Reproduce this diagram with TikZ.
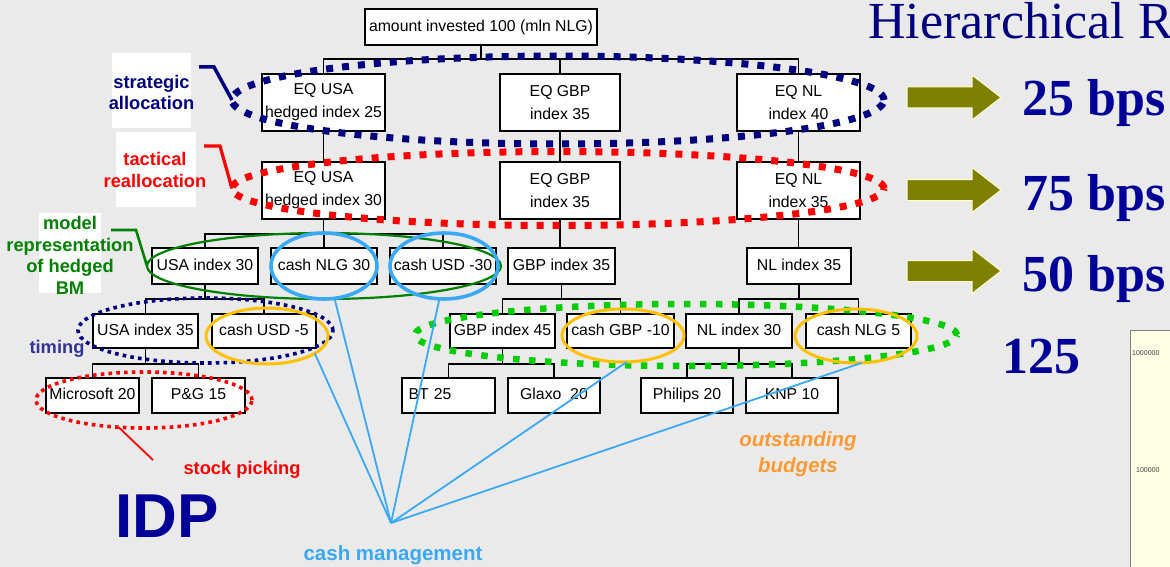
\documentclass[tikz,border=0pt]{standalone}
\usepackage{fontspec}
\setmainfont{Liberation Sans}
\newfontfamily\serifface{Liberation Serif}
\usetikzlibrary{shapes.geometric,calc}

\definecolor{bg}{HTML}{EAEAEA}
\definecolor{navy}{HTML}{000080}
\definecolor{deepblue}{HTML}{000099}
\definecolor{timingblue}{HTML}{333399}
\definecolor{redline}{HTML}{FF0000}
\definecolor{modelgreen}{HTML}{008000}
\definecolor{brightgreen}{HTML}{00CC00}
\definecolor{cashblue}{HTML}{3AA8F5}
\definecolor{gold}{HTML}{FFC000}
\definecolor{budgetorange}{HTML}{FF9933}
\definecolor{olivearrow}{HTML}{808000}
\definecolor{arrowedge}{HTML}{FFFFCC}
\definecolor{chartbg}{HTML}{FFFFE5}

\tikzset{
  box/.style={draw=black, line width=1.8pt, fill=white, inner sep=0pt,
    align=center, font=\fontsize{15.8}{23}\selectfont},
  onebox/.style={box, text height=11.4pt, text depth=3.3pt},
  tree/.style={line width=1.8pt},
  oval/.style={ellipse, inner sep=0pt, outer sep=0pt},
  bigdots/.style={line width=7pt, dash pattern=on 7pt off 9pt},
  smalldots/.style={line width=3.6pt, dash pattern=on 3.6pt off 4.2pt},
  lbl/.style={inner sep=0pt, align=center,
    font=\fontsize{18.3}{21.5}\selectfont\bfseries},
  bps/.style={anchor=base west, inner sep=0pt, text=deepblue,
    font=\serifface\bfseries\fontsize{52}{52}\selectfont},
  cashline/.style={draw=cashblue, line width=1.8pt},
  bigarrow/.pic={
    \filldraw[fill=olivearrow, draw=arrowedge, line width=1pt]
      (0,-10.5) -- (65,-10.5) -- (65,-22.5) -- (94,0) -- (65,22.5)
      -- (65,10.5) -- (0,10.5) -- cycle;}
}

\begin{document}
\begin{tikzpicture}[x=1pt,y=-1pt]
\useasboundingbox (0,0) rectangle (1170,567);
\fill[bg] (0,0) rectangle (1170,567);

% chart panel in the lower right corner
\fill[chartbg] (1130,330) rectangle (1170,567);
\draw[gray, line width=0.8pt] (1130,567) -- (1130,330) -- (1170,330);
\node[anchor=west, inner sep=0pt, text=black!75, font=\fontsize{7}{7}\selectfont] (tickA) at (1132,353) {1000000};
\node[anchor=west, inner sep=0pt, text=black!75, font=\fontsize{7}{7}\selectfont] (tickB) at (1136,470) {100000};

% heading
\node[anchor=base west, inner sep=0pt, text=navy, font=\serifface\fontsize{52}{52}\selectfont] (title) at (868,39) {Hierarchical R};

% ---- tree of portfolio boxes ----
\node[onebox, minimum width=232pt, minimum height=36pt] (top) at (481,27) {amount invested 100 (mln NLG)};

\node[box, minimum width=123pt, minimum height=57pt] (sUSA) at (323.5,102.5) {EQ USA\\hedged index 25};
\node[box, minimum width=120pt, minimum height=57pt] (sGBP) at (560,102.5) {EQ GBP\\index 35};
\node[box, minimum width=123pt, minimum height=57pt] (sNL) at (798.5,102.5) {EQ NL\\index 40};

\node[box, minimum width=123pt, minimum height=57pt] (tUSA) at (323.5,190.5) {EQ USA\\hedged index 30};
\node[box, minimum width=120pt, minimum height=57pt] (tGBP) at (560,190.5) {EQ GBP\\index 35};
\node[box, minimum width=123pt, minimum height=57pt] (tNL) at (798.5,190.5) {EQ NL\\index 35};

\node[onebox, minimum width=106pt, minimum height=36pt] (mUSA) at (205,266) {USA index 30};
\node[onebox, minimum width=106pt, minimum height=36pt] (mNLG) at (324,266) {cash NLG 30};
\node[onebox, minimum width=106pt, minimum height=36pt] (mUSD) at (443,266) {cash USD -30};
\node[onebox, minimum width=107pt, minimum height=36pt] (mGBP) at (561.5,266) {GBP index 35};
\node[onebox, minimum width=104pt, minimum height=36pt] (mNL) at (799,266) {NL index 35};

\node[onebox, minimum width=105pt, minimum height=34pt] (aUSA) at (145.5,331) {USA index 35};
\node[onebox, minimum width=104pt, minimum height=34pt] (aUSD) at (264,331) {cash USD -5};
\node[onebox, minimum width=105pt, minimum height=34pt] (aGBP) at (502.5,331) {GBP index 45};
\node[onebox, minimum width=107pt, minimum height=34pt] (aCGBP) at (620.5,331) {cash GBP -10};
\node[onebox, minimum width=106pt, minimum height=34pt] (aNL) at (739,331) {NL index 30};
\node[onebox, minimum width=105pt, minimum height=34pt] (aNLG) at (858.5,331) {cash NLG 5};

\node[onebox, minimum width=93pt, minimum height=35pt] (msft) at (92.5,395.5) {Microsoft 20};
\node[onebox, minimum width=93pt, minimum height=35pt] (pg) at (198.5,395.5) {P\&G 15};
\node[onebox, minimum width=93pt, minimum height=35pt, text width=80pt, align=left] (bt) at (448.5,395.5) {BT 25};
\node[onebox, minimum width=92pt, minimum height=35pt] (glaxo) at (554,395.5) {Glaxo\ \ 20};
\node[onebox, minimum width=92pt, minimum height=35pt] (philips) at (687,395.5) {Philips 20};
\node[onebox, minimum width=92pt, minimum height=35pt] (knp) at (792,395.5) {KNP 10};

% tree connectors
\coordinate (j0) at ($(top.south)+(0,13)$);
\draw[tree] (top.south) -- (j0) -| (sUSA.north) (j0) -| (sGBP.north) (j0) -| (sNL.north);
\draw[tree] (sUSA.south) -- (tUSA.north);
\draw[tree] (sGBP.south) -- (tGBP.north);
\draw[tree] (sNL.south) -- (tNL.north);
\coordinate (j1) at ($(tUSA.south)+(0,14)$);
\draw[tree] (tUSA.south) -- (j1) -| (mUSA.north) (j1) -| (mNLG.north) (j1) -| (mUSD.north);
\draw[tree] (tGBP.south) -- (tGBP.south |- mGBP.north);
\draw[tree] (tNL.south) -- (tNL.south |- mNL.north);
\coordinate (j2) at ($(mUSA.south)+(0,14)$);
\draw[tree] (mUSA.south) -- (j2) -| (aUSA.north) (j2) -| (aUSD.north);
\coordinate (j3) at ($(mGBP.south)+(0,14)$);
\draw[tree] (mGBP.south) -- (j3) -| (aGBP.north) (j3) -| (aCGBP.north);
\coordinate (j4) at ($(mNL.south)+(0,14)$);
\draw[tree] (mNL.south) -- (j4) -| (aNL.north) (j4) -| (aNLG.north);
\coordinate (j5) at ($(aUSA.south)+(0,15)$);
\draw[tree] (aUSA.south) -- (j5) -| (msft.north) (j5) -| (pg.north);
\coordinate (j6) at ($(aGBP.south)+(0,15)$);
\draw[tree] (aGBP.south) -- (j6) -| (bt.north) (j6) -| (glaxo.north);
\coordinate (j7) at ($(aNL.south)+(0,15)$);
\draw[tree] (aNL.south) -- (j7) -| (philips.north) (j7) -| (knp.north);

% ---- grouping ellipses ----
\node[oval, draw=navy, bigdots, minimum width=652pt, minimum height=88pt] (strat) at (558,100) {};
\node[oval, draw=redline, bigdots, minimum width=652pt, minimum height=74pt] (tact) at (558,188.5) {};
\node[oval, draw=modelgreen, line width=2.2pt, minimum width=354pt, minimum height=66pt] (model) at (324,266) {};
\node[oval, draw=cashblue, line width=3.6pt, minimum width=106pt, minimum height=66pt] (cNLG) at (324,266) {};
\node[oval, draw=cashblue, line width=3.6pt, minimum width=108pt, minimum height=66pt] (cUSD) at (444,266) {};
\node[oval, smalldots, draw=navy, minimum width=255pt, minimum height=65pt] (timing) at (205.5,330.5) {};
\node[oval, draw=gold, line width=3pt, minimum width=122pt, minimum height=56pt] (oUSD) at (267,336) {};
\node[oval, draw=brightgreen, line width=6.5pt, dash pattern=on 6.5pt off 9.5pt, minimum width=542pt, minimum height=62pt] (budget) at (686,335) {};
\node[oval, draw=gold, line width=3pt, minimum width=122pt, minimum height=53pt] (oGBP) at (623,335.5) {};
\node[oval, draw=gold, line width=3pt, minimum width=122pt, minimum height=54pt] (oNLG) at (856,336) {};
\node[oval, draw=redline, smalldots, minimum width=216pt, minimum height=56pt] (pick) at (144,400) {};

% ---- annotations ----
\node[fill=white, minimum width=79pt, minimum height=75pt, inner sep=0pt] (bgStrat) at (151.5,90.5) {};
\node[lbl, text=navy] (lblStrat) at (151.5,92.5) {strategic\\allocation};
\coordinate (sStart) at (199,67);
\draw[navy, line width=3.5pt] (sStart) -- ++(15,0) -- (strat.west);

\node[fill=white, minimum width=80pt, minimum height=75pt, inner sep=0pt] (bgTact) at (156,169.5) {};
\node[lbl, text=redline] (lblTact) at (155,170) {tactical\\reallocation};
\coordinate (tStart) at (204,146);
\draw[redline, line width=3.2pt] (tStart) -- ++(16,0) -- (tact.west);

\node[fill=white, minimum width=62pt, minimum height=80pt, inner sep=0pt] (bgModel) at (70,253) {};
\node[lbl, text=modelgreen, font=\fontsize{18.3}{21.7}\selectfont\bfseries] (lblModel) at (70,255.5) {model\\representation\\of hedged\\BM};
\coordinate (mStart) at (111,230);
\draw[modelgreen, line width=2.6pt] (mStart) -- ++(25,0) -- (model.west);

\node[lbl, anchor=base, text=timingblue] (lblTiming) at (57,353) {timing};

\node[lbl, anchor=base, text=redline] (lblPick) at (242,474) {stock picking};
\coordinate (pEnd) at (153,460);
\draw[redline, line width=1.8pt] (pick.-133) -- (pEnd);

\node[anchor=base west, inner sep=0pt, text=deepblue, font=\bfseries\fontsize{62}{62}\selectfont] (idp) at (115,537) {IDP};

\node[lbl, anchor=base, text=cashblue, font=\fontsize{20.5}{24}\selectfont\bfseries] (lblCash) at (393,560) {cash management};
\coordinate (cmApex) at (391,523);
\draw[cashline] (cmApex) -- (oUSD.-20);
\draw[cashline] (cmApex) -- (cNLG.-72);
\draw[cashline] (cmApex) -- (cUSD.-98);
\draw[cashline] (cmApex) -- (oGBP.-82);
\draw[cashline] (cmApex) -- (oNLG.-78);

\node[lbl, text=budgetorange, font=\fontsize{20.5}{26}\selectfont\bfseries\itshape] (lblBudget) at (798,454) {outstanding\\budgets};

% ---- basis-point results ----
\pic at (907,97.5) {bigarrow};
\pic at (907,190) {bigarrow};
\pic at (907,271) {bigarrow};
\node[bps] (bpsA) at (1022,116) {25 bps};
\node[bps] (bpsB) at (1022,210) {75 bps};
\node[bps] (bpsC) at (1022,291) {50 bps};
\node[bps] (bpsTotal) at (1002,373) {125};
\end{tikzpicture}
\end{document}
